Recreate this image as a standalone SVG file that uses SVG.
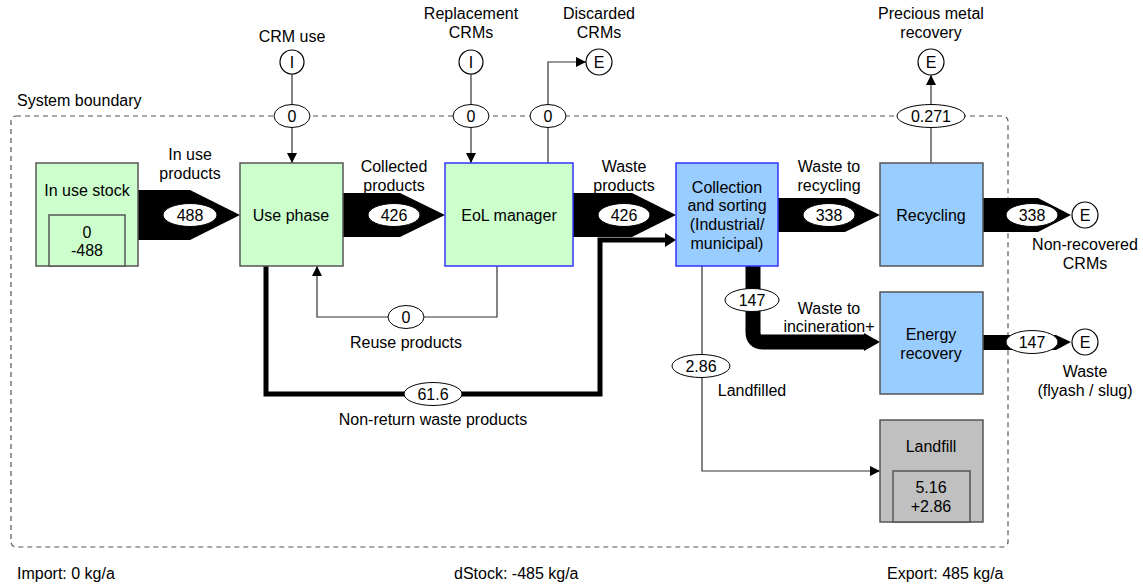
<svg xmlns="http://www.w3.org/2000/svg" width="1143" height="585" viewBox="0 0 1143 585">
<defs>
<marker id="ah" viewBox="0 0 10 10" refX="10" refY="5" markerWidth="10" markerHeight="10" markerUnits="userSpaceOnUse" orient="auto"><path d="M0,0 L10,5 L0,10 Z" fill="#000"/></marker>
<style>
text{font-family:"Liberation Sans",Arial,sans-serif;font-size:16px;fill:#000;text-anchor:middle}
.l{text-anchor:start}
.box{stroke:#555;stroke-width:1.5}
.green{fill:#ccffcc}
.blue{fill:#99ccff}
.grey{fill:#c0c0c0}
.bb{stroke:#3333ff}
.lab{fill:#fff;stroke:#000;stroke-width:1}
.thin{fill:none;stroke:#333;stroke-width:1.2}
.fat{fill:#000}
.circ{fill:#fff;stroke:#000;stroke-width:1.2}
</style>
</defs>
<rect width="1143" height="585" fill="#fff"/>
<g id="boundary">
<rect x="11" y="116" width="997" height="431" rx="5" fill="none" stroke="#555" stroke-width="1.2" stroke-dasharray="5,4"/>
<text class="l" x="17" y="106">System boundary</text>
</g>
<g id="connectors">
<path class="fat" d="M138,190 H190 L240,215 L190,240 H138 Z"/>
<path class="fat" d="M343,193 H400 L445,215 L400,237 H343 Z"/>
<path class="fat" d="M573,193 H632 L676,215 L632,237 H573 Z"/>
<path class="fat" d="M778,198 H845 L880,215 L845,232 H778 Z"/>
<path class="fat" d="M983,198 H1038 L1071,215 L1038,232 H983 Z"/>
<path class="fat" d="M983,335 H1056 L1071,342 L1056,350 H983 Z"/>
<path d="M753,266 V332 Q753,342 763,342 H866" fill="none" stroke="#000" stroke-width="15"/>
<path class="fat" d="M864,333 L880,342 L864,351 Z"/>
<path d="M266,266 V394 H600 V240 H667" fill="none" stroke="#000" stroke-width="5"/>
<path class="fat" d="M665,233 L676,240 L665,247 Z"/>
<path class="thin" d="M292,74 V163" marker-end="url(#ah)"/>
<path class="thin" d="M471,74 V163" marker-end="url(#ah)"/>
<path class="thin" d="M548,163 V62 H586" marker-end="url(#ah)"/>
<path class="thin" d="M931,163 V75" marker-end="url(#ah)"/>
<path class="thin" d="M497,266 V317 H317 V266" marker-end="url(#ah)"/>
<path class="thin" d="M702,266 V471 H880" marker-end="url(#ah)"/>
<ellipse class="lab" cx="190" cy="215" rx="27" ry="11.5"/><text x="190" y="221">488</text>
<ellipse class="lab" cx="394" cy="215" rx="26" ry="11.5"/><text x="394" y="221">426</text>
<ellipse class="lab" cx="624" cy="215" rx="26" ry="11.5"/><text x="624" y="221">426</text>
<ellipse class="lab" cx="829" cy="215" rx="26" ry="11.5"/><text x="829" y="221">338</text>
<ellipse class="lab" cx="1032" cy="215" rx="26" ry="11.5"/><text x="1032" y="221">338</text>
<ellipse class="lab" cx="1032" cy="342" rx="26" ry="11.5"/><text x="1032" y="348">147</text>
<ellipse class="lab" cx="752" cy="300" rx="27" ry="11.5"/><text x="752" y="306">147</text>
<ellipse class="lab" cx="433" cy="394" rx="29" ry="11.5"/><text x="433" y="400">61.6</text>
<ellipse class="lab" cx="406" cy="317" rx="18" ry="11.5"/><text x="406" y="323">0</text>
<ellipse class="lab" cx="701" cy="366" rx="29" ry="11.5"/><text x="701" y="372">2.86</text>
<ellipse class="lab" cx="292" cy="116" rx="18" ry="11.5"/><text x="292" y="122">0</text>
<ellipse class="lab" cx="471" cy="116" rx="18" ry="11.5"/><text x="471" y="122">0</text>
<ellipse class="lab" cx="548" cy="116" rx="18" ry="11.5"/><text x="548" y="122">0</text>
<ellipse class="lab" cx="931" cy="116" rx="34" ry="11.5"/><text x="931" y="122">0.271</text>
<text x="190" y="160">In use</text><text x="190" y="179">products</text>
<text x="394" y="172">Collected</text><text x="394" y="191">products</text>
<text x="624" y="172">Waste</text><text x="624" y="191">products</text>
<text x="829" y="172">Waste to</text><text x="829" y="191">recycling</text>
<text x="829" y="314">Waste to</text><text x="829" y="332">incineration+</text>
<text x="406" y="348">Reuse products</text>
<text x="433" y="425">Non-return waste products</text>
<text x="752" y="396">Landfilled</text>
<text x="1085" y="250">Non-recovered</text><text x="1085" y="269">CRMs</text>
<text x="1085" y="377">Waste</text><text x="1085" y="396">(flyash / slug)</text>
</g>
<g id="io">
<circle class="circ" cx="292" cy="62" r="12"/><text x="292" y="68">I</text><text x="292" y="42">CRM use</text>
<circle class="circ" cx="471" cy="62" r="12"/><text x="471" y="68">I</text><text x="471" y="19">Replacement</text><text x="471" y="38">CRMs</text>
<circle class="circ" cx="599" cy="62" r="13"/><text x="599" y="68">E</text><text x="599" y="19">Discarded</text><text x="599" y="38">CRMs</text>
<circle class="circ" cx="931" cy="62" r="13"/><text x="931" y="68">E</text><text x="931" y="19">Precious metal</text><text x="931" y="38">recovery</text>
<circle class="circ" cx="1085" cy="215" r="13"/><text x="1085" y="221">E</text>
<circle class="circ" cx="1085" cy="342" r="13"/><text x="1085" y="348">E</text>
</g>
<g id="in-use-stock">
<rect class="box green" x="36" y="163" width="102" height="103"/>
<rect class="box green" x="49" y="215" width="76" height="51"/>
<text x="87" y="196">In use stock</text>
<text x="87" y="238">0</text><text x="87" y="256">-488</text>
</g>
<g id="use-phase">
<rect class="box green" x="240" y="163" width="103" height="103"/>
<text x="291" y="221">Use phase</text>
</g>
<g id="eol-manager">
<rect class="box green bb" x="445" y="163" width="128" height="103"/>
<text x="509" y="221">EoL manager</text>
</g>
<g id="collection">
<rect class="box blue bb" x="676" y="163" width="102" height="103"/>
<text x="727" y="193">Collection</text><text x="727" y="211">and sorting</text><text x="727" y="230">(Industrial/</text><text x="727" y="249">municipal)</text>
</g>
<g id="recycling">
<rect class="box blue" x="880" y="163" width="103" height="103"/>
<text x="931" y="221">Recycling</text>
</g>
<g id="energy-recovery">
<rect class="box blue" x="880" y="292" width="103" height="102"/>
<text x="931" y="340">Energy</text><text x="931" y="359">recovery</text>
</g>
<g id="landfill">
<rect class="box grey" x="880" y="420" width="103" height="102"/>
<rect class="box grey" x="893" y="471" width="77" height="51"/>
<text x="931" y="452">Landfill</text>
<text x="931" y="493">5.16</text><text x="931" y="512">+2.86</text>
</g>
<g id="footer">
<text class="l" x="17" y="579">Import: 0 kg/a</text>
<text class="l" x="454" y="579">dStock: -485 kg/a</text>
<text class="l" x="887" y="579">Export: 485 kg/a</text>
</g>
</svg>
